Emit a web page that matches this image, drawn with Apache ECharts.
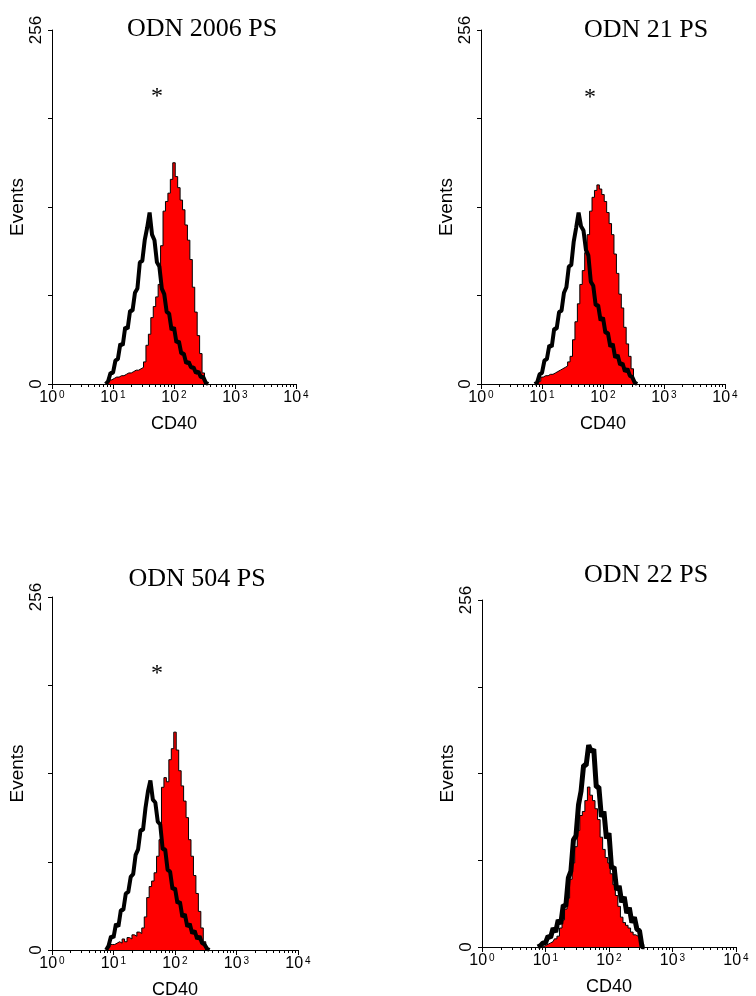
<!DOCTYPE html>
<html><head><meta charset="utf-8">
<script src="https://cdn.jsdelivr.net/npm/echarts@6/dist/echarts.min.js"></script>
<style>html,body{margin:0;padding:0;background:#fff}#c{width:756px;height:996px}</style>
</head><body><div id="c"></div>
<script>
// CD40 channel positions in decades (log10 of fluorescence)
const CHANNELS = [0.88,0.92,0.96,1.00,1.04,1.08,1.12,1.16,1.20,1.24,1.28,1.32,1.36,1.40,1.44,1.48,1.52,1.56,1.60,1.64,1.68,1.72,1.76,1.80,1.84,1.88,1.92,1.96,2.00,2.04,2.08,2.12,2.16,2.20,2.24,2.28,2.32,2.36,2.40,2.44,2.48,2.52,2.56];

const TITLES = ['ODN 2006 PS','ODN 21 PS','ODN 504 PS','ODN 22 PS'];
const MARKS = ['*','*','*',''];
const X_TICKS = [0,1,2,3,4];
const X_TICK_EXP = ['0','1','2','3','4'];
const Y_LABELS = [0,256];
const X_NAME = 'CD40';
const Y_NAME = 'Events';

const RED_2006   = [0,1,3,4,5,5,6,6,7,8,8,9,10,10,11,12,16,28,36,48,56,63,72,100,125,132,138,148,160,150,142,133,126,115,104,90,70,52,35,22,8,0,0];
const BLACK_2006 = [0,2,8,8,17,18,29,28,41,40,53,53,66,69,88,89,104,113,124,108,104,88,85,69,65,52,51,39,41,30,31,22,22,15,16,12,12,8,9,5,5,1,0];
const RED_21     = [0,0,2,5,6,6,7,7,8,9,10,11,12,13,16,20,32,45,58,72,82,95,108,125,135,140,144,141,137,132,124,116,108,94,80,65,55,41,29,20,11,2,0];
const BLACK_21   = [0,1,7,8,17,18,28,27,40,40,52,53,66,70,85,86,103,113,124,114,111,97,93,74,71,57,57,46,48,37,37,27,29,19,21,14,15,9,11,6,5,1,0];
const RED_504    = [0,2,4,4,5,6,5,8,6,9,8,11,10,13,12,16,24,38,46,50,56,68,80,118,125,122,138,146,158,145,130,119,108,96,80,68,54,41,28,16,6,0,0];
const BLACK_504  = [0,3,10,9,19,17,29,29,41,42,53,55,69,73,87,87,103,115,123,109,107,93,91,73,73,58,57,44,45,34,35,24,26,17,19,12,14,8,10,5,4,1,0];
const RED_22     = [0,0,0,1,2,3,4,6,8,14,20,28,36,50,62,74,86,97,100,108,118,112,108,102,94,81,72,66,62,54,46,38,30,22,18,16,14,11,9,8,7,0,0];
const BLACK_22   = [0,1,3,3,8,7,14,11,20,17,31,30,51,56,79,82,105,115,134,134,149,144,146,118,118,96,100,80,84,58,59,42,45,33,37,25,29,18,22,13,12,0,0];

const REDS = [RED_2006, RED_21, RED_504, RED_22];
const BLACKS = [BLACK_2006, BLACK_21, BLACK_504, BLACK_22];

// layout (positions only)
const LAYOUT = [
  {grid:{left:52, top:30, width:244, height:354}, tx:202, ty:29, sx:157, sy:97, nameGap:20, lw:4},
  {grid:{left:481,top:30, width:244, height:354}, tx:646, ty:30, sx:590, sy:98, nameGap:24, lw:4},
  {grid:{left:52, top:597,width:246, height:353}, tx:197, ty:579, sx:157, sy:674, nameGap:20, lw:4},
  {grid:{left:482,top:600,width:254, height:347}, tx:646, ty:575, sx:0, sy:0, nameGap:21, lw:5}
];

// minor log ticks 2..9 in every decade
const MINOR = [];
for (let d = 0; d < 4; d++) for (let k = 2; k <= 9; k++) MINOR.push(d + Math.log10(k));

const SANS = 'Liberation Sans';
const SERIF = 'Liberation Serif';

const grids = [], xAxes = [], yAxes = [], series = [], graphics = [];
LAYOUT.forEach((L, i) => {
  grids.push(Object.assign({containLabel:false, outerBoundsMode:'none'}, L.grid));
  xAxes.push({
    type:'value', gridIndex:i, min:0, max:4, interval:1,
    name: X_NAME, nameLocation:'middle', nameGap:31,
    nameTextStyle:{fontFamily:SANS, fontSize:18, color:'#000'},
    axisLine:{show:true, lineStyle:{color:'#000', width:1}},
    axisTick:{show:true, length:5, inside:false, lineStyle:{color:'#000', width:1}},
    splitLine:{show:false},
    axisLabel:{
      show:true, margin:6, color:'#000',
      customValues: X_TICKS,
      formatter: v => '{a|10}{b|' + X_TICK_EXP[Math.round(v)] + '}',
      rich:{
        a:{fontFamily:SANS, fontSize:16, lineHeight:16, color:'#000'},
        b:{fontFamily:SANS, fontSize:10, lineHeight:10, verticalAlign:'top', padding:[0,0,0,2], color:'#000'}
      }
    }
  });
  xAxes.push({
    type:'value', gridIndex:i, min:0, max:4, position:'bottom',
    axisLine:{show:false}, axisLabel:{show:false}, splitLine:{show:false},
    axisTick:{show:true, length:3, customValues: MINOR, lineStyle:{color:'#000', width:1}}
  });
  yAxes.push({
    type:'value', gridIndex:i, min:0, max:256, interval:64,
    name: Y_NAME, nameLocation:'middle', nameGap:L.nameGap, nameRotate:90,
    nameTextStyle:{fontFamily:SANS, fontSize:19, color:'#000'},
    axisLine:{show:true, lineStyle:{color:'#000', width:1}},
    axisTick:{show:true, length:4, lineStyle:{color:'#000', width:1}},
    splitLine:{show:false},
    axisLabel:{
      rotate:90, margin:7, fontFamily:SANS, fontSize:17, color:'#000',
      formatter: v => (Y_LABELS.indexOf(v) >= 0 ? String(v) : '')
    }
  });
  series.push({
    type:'line', xAxisIndex:i*2, yAxisIndex:i, step:'middle', symbol:'none',
    data: CHANNELS.map((c, j) => [c, REDS[i][j]]),
    lineStyle:{color:'#000', width:1}, areaStyle:{color:'#ff0000', opacity:1},
    z:2, animation:false
  });
  series.push({
    type:'line', xAxisIndex:i*2, yAxisIndex:i, symbol:'none',
    data: CHANNELS.map((c, j) => [c, BLACKS[i][j]]),
    lineStyle:{color:'#000', width:L.lw, join:'bevel'}, z:3, animation:false
  });
  graphics.push({
    type:'text', x:L.tx, y:L.ty,
    style:{text:TITLES[i], font:'26px "' + SERIF + '"', fill:'#000', textAlign:'center', textVerticalAlign:'middle'}
  });
  if (MARKS[i]) graphics.push({
    type:'text', x:L.sx, y:L.sy,
    style:{text:MARKS[i], font:'24px "' + SERIF + '"', fill:'#000', textAlign:'center', textVerticalAlign:'middle'}
  });
});

const chart = echarts.init(document.getElementById('c'), null, {renderer:'canvas'});
chart.setOption({
  backgroundColor:'#fff', animation:false,
  grid: grids, xAxis: xAxes, yAxis: yAxes, series: series, graphic: graphics
});
</script></body></html>
